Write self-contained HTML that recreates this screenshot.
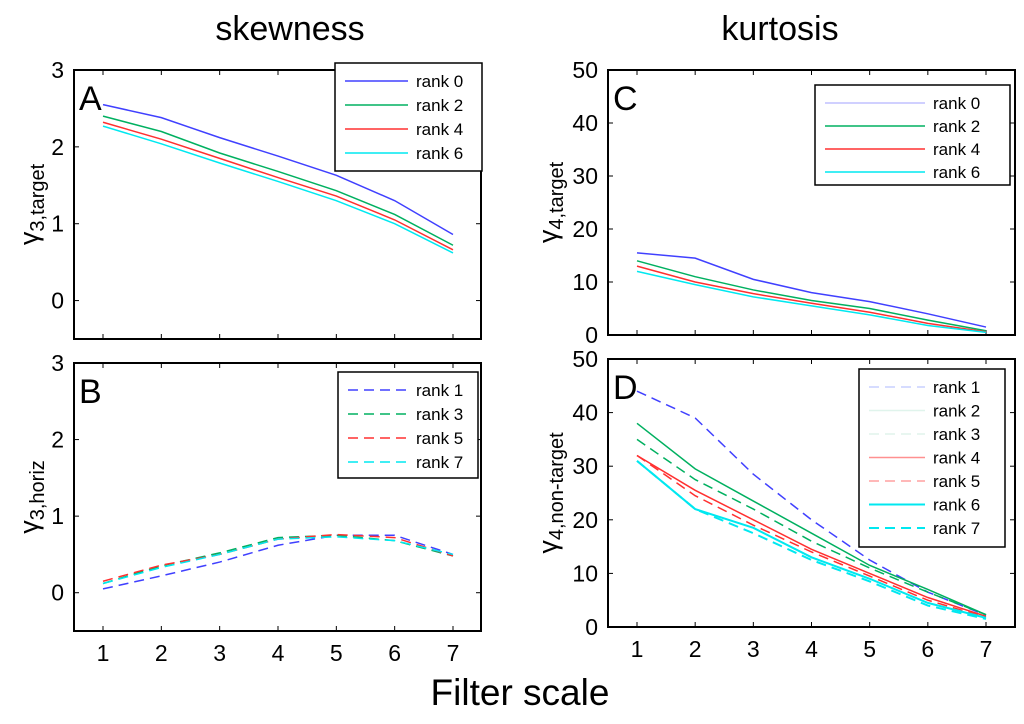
<!DOCTYPE html>
<html><head><meta charset="utf-8"><style>
body{margin:0;background:#fff;width:1024px;height:719px;overflow:hidden}
svg text{font-family:"Liberation Sans",sans-serif}
</style></head><body>
<svg id="c" width="1024" height="719" xmlns="http://www.w3.org/2000/svg">
<text x="290" y="40" font-size="34" text-anchor="middle">skewness</text>
<text x="780" y="40" font-size="34" text-anchor="middle">kurtosis</text>
<text x="520" y="705" font-size="37" text-anchor="middle">Filter scale</text>
</svg>
<script>
const xCats=[1,2,3,4,5,6,7];
const aTicks=[0,1,2,3];
const cTicks=[0,10,20,30,40,50];
const aR0=[2.55,2.38,2.12,1.88,1.63,1.3,0.86];
const aR2=[2.4,2.2,1.92,1.68,1.43,1.12,0.72];
const aR4=[2.32,2.1,1.85,1.6,1.36,1.05,0.66];
const aR6=[2.27,2.04,1.79,1.55,1.3,1.0,0.62];
const bR1=[0.05,0.22,0.4,0.62,0.75,0.75,0.5];
const bR3=[0.12,0.35,0.52,0.72,0.75,0.68,0.48];
const bR5=[0.15,0.36,0.5,0.7,0.76,0.72,0.48];
const bR7=[0.12,0.33,0.5,0.7,0.73,0.68,0.5];
const cR0=[15.5,14.5,10.5,8,6.3,4,1.5];
const cR2=[14,11,8.5,6.5,5,2.8,0.8];
const cR4=[13,10,7.8,6,4.3,2.2,0.6];
const cR6=[12,9.5,7.2,5.5,3.8,1.8,0.5];
const dR1=[44,39,28.5,20,12.5,6.5,2.2];
const dR2=[38,29.5,23.5,17.5,11.5,7,2.3];
const dR3=[35,27.5,22,16,11,6.5,2.3];
const dR4=[32,25.5,20,14.5,10,5.5,2];
const dR5=[32,24.5,19,14,9.5,5,1.8];
const dR6=[31,22,18.5,13,9,4.5,1.7];
const dR7=[31,22,17.5,12.5,8.5,4,1.5];
const BLUE='#4040ff',GREEN='#00b060',RED='#ff3030',CYAN='#00e8f0';
const NS='http://www.w3.org/2000/svg';
const svg=document.getElementById('c');
function mk(t,a,p){const e=document.createElementNS(NS,t);for(const k in a)e.setAttribute(k,a[k]);(p||svg).appendChild(e);return e;}
function panel(o){
 const g=mk('g',{});
 
 
 const xs=v=>o.x1+(v-1)*(o.x7-o.x1)/6;
 const ys=v=>o.bot+(v-o.ymin)*(o.top-o.bot)/(o.ymax-o.ymin);
 const fr=mk('rect',{x:o.l,y:o.top,width:o.r-o.l,height:o.bot-o.top,fill:'none',stroke:'#000','stroke-width':2},g);
 
 
 o.ticks.forEach(t=>{const y=ys(t);
  mk('line',{x1:o.l,x2:o.l+5,y1:y,y2:y,stroke:'#000'},g);mk('line',{x1:o.r,x2:o.r-5,y1:y,y2:y,stroke:'#000'},g);
  const tx=mk('text',{x:o.l-10,y:y+8,'font-size':23,'text-anchor':'end'},g);tx.textContent=t;
  
  });
 xCats.forEach(c=>{const x=xs(c);
  mk('line',{x1:x,x2:x,y1:o.bot,y2:o.bot-5,stroke:'#000'},g);mk('line',{x1:x,x2:x,y1:o.top,y2:o.top+5,stroke:'#000'},g);
  if(o.xlab){const tx=mk('text',{x:x,y:o.bot+30,'font-size':23,'text-anchor':'middle'},g);tx.textContent=c;
  
  }});
 o.series.forEach(s=>{
  const p=mk('polyline',{points:s.v.map((v,i)=>xs(xCats[i])+','+ys(v)).join(' '),fill:'none',stroke:s.c,'stroke-width':s.w||1.5,'stroke-dasharray':s.d?'10,6':'none'},g);
  
  });
 const L=o.leg;
 const lb=mk('rect',{x:L.x,y:L.y,width:L.w,height:L.h,fill:'#fff',stroke:'#000','stroke-width':1.5},g);
 
 
 o.series.forEach((s,i)=>{const y=L.y+18+i*L.dy;
  mk('line',{x1:L.x+10,x2:L.x+L.lw,y1:y,y2:y,stroke:s.lc||s.c,'stroke-width':s.w||1.5,'stroke-dasharray':s.d?'10,6':'none'},g);
  const t=mk('text',{x:L.x+L.lw+8,y:y+6,'font-size':17},g);t.textContent=s.n;
  
  });
 const lt=mk('text',{x:o.l+5,y:o.top+40,'font-size':34},g);lt.textContent=o.id;
 
 
 const yl=mk('text',{transform:`translate(${o.yx},${(o.top+o.bot)/2}) rotate(-90)`,'font-size':27,'text-anchor':'middle'},g);
 yl.innerHTML=o.yl;
 
 
}
panel({id:'A',l:74,r:481,top:70,bot:339,ymin:-0.5,ymax:3,x1:103,x7:453,ticks:aTicks,xlab:false,yx:38,
 yl:'γ<tspan font-size="20" dy="6">3,target</tspan>',
 leg:{x:335,y:63,w:147,h:108,dy:24,lw:73},
 series:[{n:'rank 0',v:aR0,c:BLUE},{n:'rank 2',v:aR2,c:GREEN},{n:'rank 4',v:aR4,c:RED},{n:'rank 6',v:aR6,c:CYAN}]});
panel({id:'B',l:74,r:481,top:363,bot:631,ymin:-0.5,ymax:3,x1:103,x7:453,ticks:aTicks,xlab:true,yx:38,
 yl:'γ<tspan font-size="20" dy="6">3,horiz</tspan>',
 leg:{x:338,y:372,w:140,h:106,dy:24,lw:70},
 series:[{n:'rank 1',v:bR1,c:BLUE,d:1},{n:'rank 3',v:bR3,c:GREEN,d:1},{n:'rank 5',v:bR5,c:RED,d:1},{n:'rank 7',v:bR7,c:CYAN,d:1}]});
panel({id:'C',l:608,r:1015,top:70,bot:335,ymin:0,ymax:50,x1:637,x7:986,ticks:cTicks,xlab:false,yx:557,
 yl:'γ<tspan font-size="20" dy="6">4,target</tspan>',
 leg:{x:815,y:85,w:195,h:100,dy:23,lw:110},
 series:[{n:'rank 0',v:cR0,c:BLUE,lc:'#c0c0ff'},{n:'rank 2',v:cR2,c:GREEN},{n:'rank 4',v:cR4,c:RED},{n:'rank 6',v:cR6,c:CYAN}]});
panel({id:'D',l:608,r:1015,top:359,bot:627,ymin:0,ymax:50,x1:637,x7:986,ticks:cTicks,xlab:true,yx:557,
 yl:'γ<tspan font-size="20" dy="6">4,non-target</tspan>',
 leg:{x:859,y:369,w:146,h:178,dy:23.5,lw:66},
 series:[{n:'rank 1',v:dR1,c:BLUE,d:1,lc:'#c8d0ff'},{n:'rank 2',v:dR2,c:GREEN,lc:'#e0f4ec'},{n:'rank 3',v:dR3,c:GREEN,d:1,lc:'#e0f4ec'},{n:'rank 4',v:dR4,c:RED,lc:'#ff9090'},{n:'rank 5',v:dR5,c:RED,d:1,lc:'#ffa0a0'},{n:'rank 6',v:dR6,c:CYAN,w:2},{n:'rank 7',v:dR7,c:CYAN,d:1,w:2}]});
</script>
</body></html>
